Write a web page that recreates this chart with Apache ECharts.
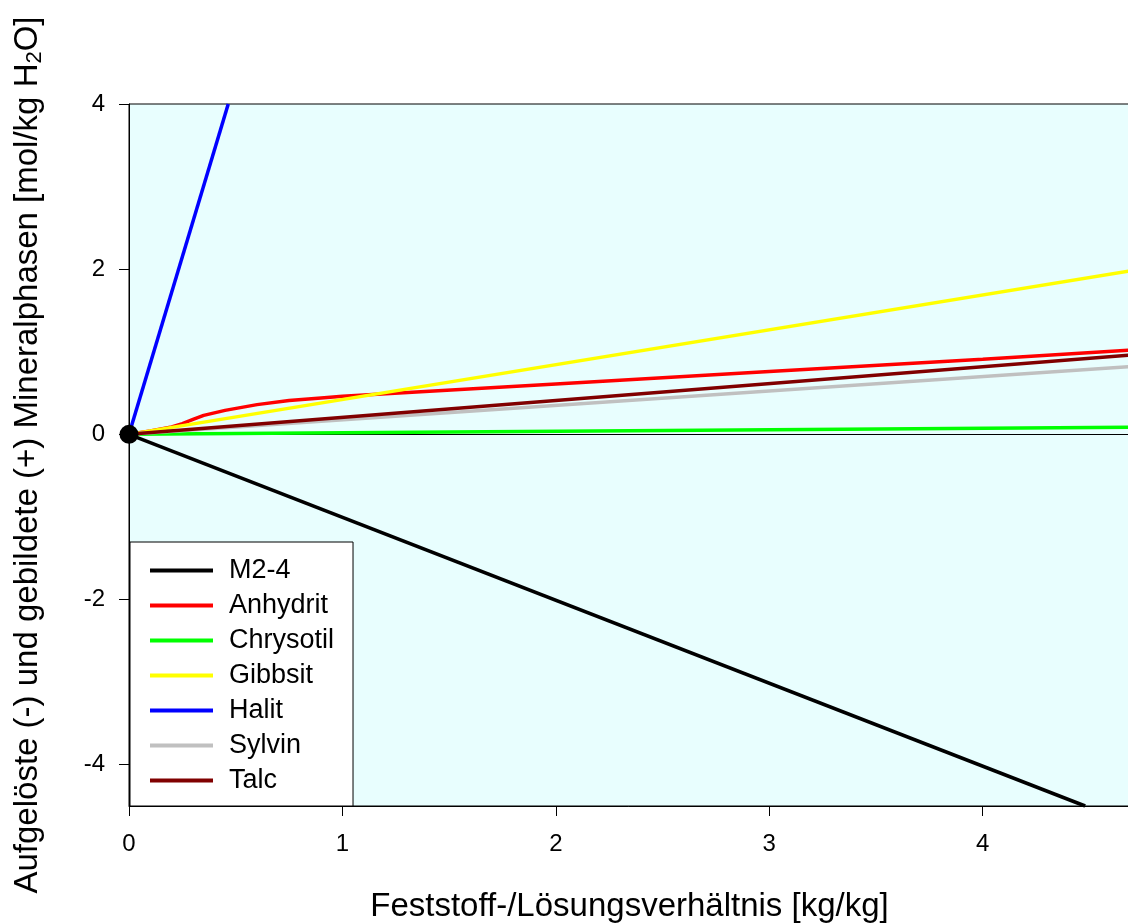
<!DOCTYPE html>
<html>
<head>
<meta charset="utf-8">
<script src="https://cdn.jsdelivr.net/npm/echarts@6/dist/echarts.min.js"></script>
<style>
html,body{margin:0;padding:0;background:#fff;}
#chart{width:1128px;height:923px;}
</style>
</head>
<body>
<div id="chart"></div>
<script>
// ---- data ----
const seriesNames = ['M2-4', 'Anhydrit', 'Chrysotil', 'Gibbsit', 'Halit', 'Sylvin', 'Talc'];
const seriesColors = ['#000000', '#ff0000', '#00ff00', '#ffff00', '#0000ff', '#c0c0c0', '#800000'];
const m24 = [[0, 0], [4.48, -4.5]];
const anhydrit = [[0, 0], [0.1, 0.04], [0.2, 0.09], [0.25, 0.13], [0.3, 0.18], [0.35, 0.23], [0.45, 0.29], [0.6, 0.36], [0.75, 0.41], [0.9, 0.44], [1.0, 0.46], [2, 0.61], [3, 0.76], [4, 0.91], [4.69, 1.02]];
const chrysotil = [[0, 0], [4.69, 0.085]];
const gibbsit = [[0, 0], [4.69, 1.98]];
const halit = [[0, 0], [0.465, 4.0]];
const sylvin = [[0, 0], [4.69, 0.82]];
const talc = [[0, 0], [4.69, 0.96]];
const startPoint = [[0, 0]];
const xTicks = [0, 1, 2, 3, 4];
const yTicks = [-4, -2, 0, 2, 4];
const xMin = 0, xMax = 4.69, yMin = -4.5, yMax = 4;

const seriesData = [m24, anhydrit, chrysotil, gibbsit, halit, sylvin, talc];
const FONT = 'Liberation Sans, Arial, Helvetica, sans-serif';

const chart = echarts.init(document.getElementById('chart'), null, {renderer: 'canvas'});

const lineSeries = seriesNames.map((n, i) => ({
  name: n,
  type: 'line',
  data: seriesData[i],
  symbol: 'none',
  showSymbol: false,
  color: seriesColors[i],
  lineStyle: {color: seriesColors[i], width: 3.5},
  z: 3 + i,
  silent: true,
  animation: false
}));

const option = {
  animation: false,
  backgroundColor: '#ffffff',
  textStyle: {fontFamily: FONT},
  grid: {
    left: 129, top: 104, right: -2, bottom: 117,
    show: true, backgroundColor: '#e8fefe', borderColor: '#000', borderWidth: 1,
    containLabel: false,
    outerBoundsMode: 'none'
  },
  legend: {
    data: seriesNames.map(n => ({name: n, icon: 'rect'})),
    orient: 'vertical',
    left: 130, top: 542,
    padding: [15, 19, 12, 20],
    itemWidth: 63, itemHeight: 4, itemGap: 8,
    backgroundColor: '#ffffff',
    borderColor: '#000', borderWidth: 1,
    selectedMode: false,
    textStyle: {fontSize: 27, color: '#000', fontFamily: FONT, padding: [0, 0, 0, 11]},
    z: 20
  },
  xAxis: {
    type: 'value', min: xMin, max: xMax,
    name: 'Feststoff-/Lösungsverhältnis [kg/kg]',
    nameLocation: 'middle', nameGap: 84,
    nameTextStyle: {fontSize: 33, color: '#000', fontFamily: FONT},
    axisLine: {show: true, onZero: false, lineStyle: {color: '#000', width: 1}},
    axisTick: {show: true, inside: false, length: 10, customValues: xTicks, lineStyle: {color: '#000'}},
    axisLabel: {show: true, margin: 26, fontSize: 24, color: '#000', fontFamily: FONT, customValues: xTicks, formatter: v => String(v)},
    splitLine: {show: false}
  },
  yAxis: {
    type: 'value', min: yMin, max: yMax,
    name: 'Aufgelöste (-) und gebildete (+) Mineralphasen [mol/kg H{sub|2}O]',
    nameLocation: 'middle', nameGap: 83, nameRotate: 90,
    nameTextStyle: {
      fontSize: 33, color: '#000', fontFamily: FONT, lineHeight: 36,
      rich: {sub: {fontSize: 22, fontFamily: FONT, color: '#000', verticalAlign: 'bottom', lineHeight: 24, padding: [13, 0, 0, 0]}}
    },
    axisLine: {show: true, onZero: false, lineStyle: {color: '#000', width: 1}},
    axisTick: {show: true, inside: false, length: 10, customValues: yTicks, lineStyle: {color: '#000'}},
    axisLabel: {show: true, margin: 24, fontSize: 24, color: '#000', fontFamily: FONT, customValues: yTicks, formatter: v => String(v)},
    splitLine: {show: false}
  },
  series: [
    {
      name: 'zero', type: 'line', data: [], z: 2, silent: true,
      markLine: {
        silent: true, symbol: ['none', 'none'], label: {show: false},
        lineStyle: {color: '#000', width: 1, type: 'solid'},
        data: [{yAxis: 0}], animation: false
      }
    },
    ...lineSeries,
    {
      name: 'start', type: 'scatter', data: startPoint, symbol: 'circle', symbolSize: 19,
      itemStyle: {color: '#000', opacity: 1}, z: 15, silent: true
    }
  ]
};
chart.setOption(option);
</script>
</body>
</html>
